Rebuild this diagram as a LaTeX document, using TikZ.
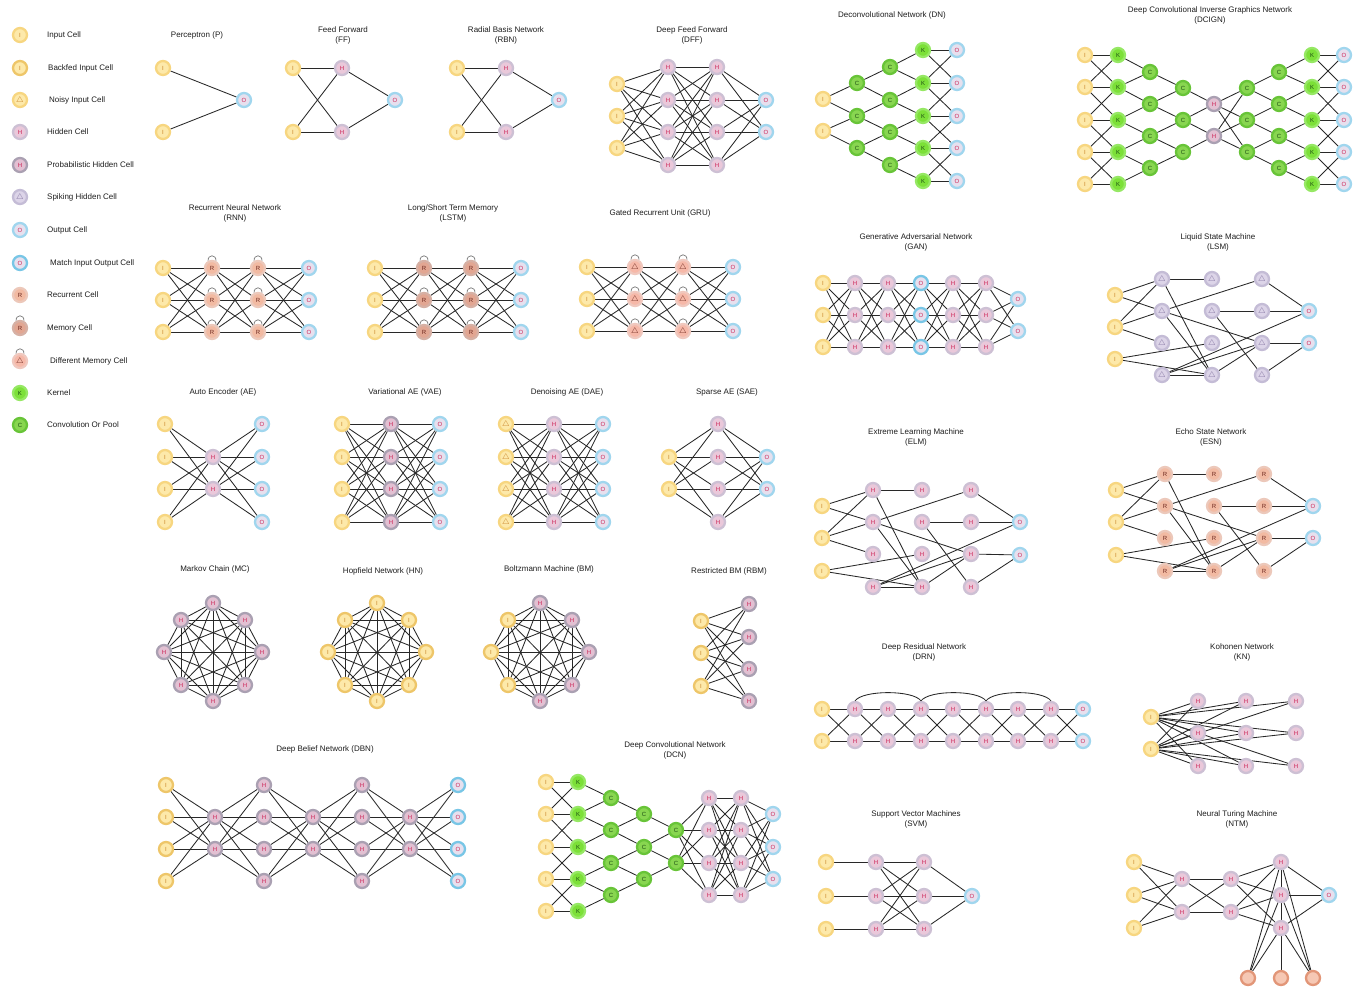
\documentclass[tikz,border=0pt]{standalone}
\usepackage{fontspec}
\setmainfont{Liberation Sans}
\definecolor{inpF}{RGB}{253,233,170}
\definecolor{inpD}{RGB}{247,214,128}
\definecolor{bfiD}{RGB}{238,198,105}
\definecolor{inpT}{RGB}{200,130,40}
\definecolor{hidF}{RGB}{234,200,218}
\definecolor{hidD}{RGB}{205,192,212}
\definecolor{prbF}{RGB}{226,192,210}
\definecolor{prbD}{RGB}{170,160,178}
\definecolor{hidT}{RGB}{205,35,85}
\definecolor{spkF}{RGB}{220,212,232}
\definecolor{spkD}{RGB}{196,188,214}
\definecolor{spkT}{RGB}{130,115,160}
\definecolor{outF}{RGB}{230,224,238}
\definecolor{outD}{RGB}{160,214,238}
\definecolor{matD}{RGB}{120,198,230}
\definecolor{recF}{RGB}{242,186,162}
\definecolor{recD}{RGB}{236,200,186}
\definecolor{memF}{RGB}{226,166,146}
\definecolor{memD}{RGB}{214,176,164}
\definecolor{ntmF}{RGB}{246,200,180}
\definecolor{ntmD}{RGB}{226,150,120}
\definecolor{dmeF}{RGB}{246,184,168}
\definecolor{dmeD}{RGB}{240,200,190}
\definecolor{recT}{RGB}{110,40,30}
\definecolor{kerF}{RGB}{124,224,56}
\definecolor{kerD}{RGB}{150,232,100}
\definecolor{cnvF}{RGB}{136,214,80}
\definecolor{cnvD}{RGB}{104,196,56}
\definecolor{kerT}{RGB}{30,80,20}
\definecolor{lineC}{RGB}{40,40,40}
\definecolor{arcC}{RGB}{120,120,120}
\definecolor{titleC}{RGB}{30,30,30}
\pgfdeclarelayer{bg}
\pgfsetlayers{bg,main}
\tikzset{
 cell/.style={circle,minimum size=14pt,inner sep=0pt,line width=2.3pt,font=\fontsize{6}{6}\selectfont},
 inp/.style={cell,fill=inpF,draw=inpD,text=inpT},
 bfi/.style={cell,fill=inpF,draw=bfiD,text=inpT},
 noi/.style={cell,fill=inpF,draw=inpD,text=inpT},
 hid/.style={cell,fill=hidF,draw=hidD,text=hidT},
 prb/.style={cell,fill=prbF,draw=prbD,text=hidT},
 spk/.style={cell,fill=spkF,draw=spkD,text=spkT},
 outc/.style={cell,fill=outF,draw=outD,text=hidT},
 mat/.style={cell,fill=outF,draw=matD,text=hidT},
 rec/.style={cell,fill=recF,draw=recD,text=recT},
 mem/.style={cell,fill=memF,draw=memD,text=recT},
 dme/.style={cell,fill=dmeF,draw=dmeD,text=recT},
 ker/.style={cell,fill=kerF,draw=kerD,text=kerT},
 cnv/.style={cell,fill=cnvF,draw=cnvD,text=kerT},
 ntm/.style={cell,minimum size=14pt,fill=ntmF,draw=ntmD},
 conn/.style={draw=lineC,line width=0.85pt},
 arcl/.style={draw=arcC,line width=0.7pt},
 ttl/.style={font=\fontsize{8}{10}\selectfont,align=center,text=titleC,inner sep=0pt},
 leg/.style={font=\fontsize{8}{9}\selectfont,anchor=west,text=titleC,inner sep=0pt},
}
\newcommand\NTri{{\fontsize{8.5}{8.5}\selectfont$\triangle$}}
\newcommand\NLayer[5]{\foreach \yy [count=\kk] in {#5}{\node[#2] (#1\kk) at (#4,\yy) {#3};}}
\newcommand\NFull[4]{\begin{pgfonlayer}{bg}\foreach \aa in {1,...,#2}{\foreach \bb in {1,...,#4}{\draw[conn] (#1\aa) -- (#3\bb);}}\end{pgfonlayer}}
\newcommand\NExp[3]{\begin{pgfonlayer}{bg}\foreach \aa in {1,...,#2}{\pgfmathtruncatemacro\bb{\aa+1}\draw[conn] (#1\aa) -- (#3\aa);\draw[conn] (#1\aa) -- (#3\bb);}\end{pgfonlayer}}
\newcommand\NCross[3]{\begin{pgfonlayer}{bg}\foreach \aa in {1,...,#2}{\draw[conn] (#1\aa) -- (#3\aa);}\pgfmathtruncatemacro\mm{#2-1}\foreach \aa in {1,...,\mm}{\pgfmathtruncatemacro\bb{\aa+1}\draw[conn] (#1\aa) -- (#3\bb);\draw[conn] (#1\bb) -- (#3\aa);}\end{pgfonlayer}}
\newcommand\NComplete[2]{\begin{pgfonlayer}{bg}\foreach \aa in {1,...,#2}{\foreach \bb in {1,...,#2}{\ifnum\aa<\bb\relax\draw[conn] (#1\aa) -- (#1\bb);\fi}}\end{pgfonlayer}}
\newcommand\NArcs[2]{\foreach \kk in {1,...,#2}{\draw[arcl] ([xshift=-4pt,yshift=-0.8pt]#1\kk.north) .. controls +(0,6.5pt) and +(0,6.5pt) .. ([xshift=4pt,yshift=-0.8pt]#1\kk.north);}}
\newcommand\NRand[1]{\begin{pgfonlayer}{bg}\foreach \u/\v in {I1/A1,I1/A2,I2/A1,I2/A2,I2/A3,I3/B3,I3/B4,A1/B1,A1/B4,A2/C1,A2/C3,A2/B4,A4/B4,A4/C3,A4/O1,B2/C2,B2/C4,B4/C3,C1/O1,C2/O1,C3/O2,C4/O2}{\draw[conn] (#1\u) -- (#1\v);}\end{pgfonlayer}}
\begin{document}
\begin{tikzpicture}[x=1pt,y=-1pt]
\begin{pgfonlayer}{bg}
\fill[white] (0,0) rectangle (1363,989);
\end{pgfonlayer}
\useasboundingbox (0,0) rectangle (1363,989);
% ---------------- legend
\node[inp] (lg1) at (20,35) {I};        \node[leg] (lt1) at (47,35) {Input Cell};
\node[bfi] (lg2) at (20,68) {I};        \node[leg] (lt2) at (48,68) {Backfed Input Cell};
\node[noi] (lg3) at (20,100) {\NTri};   \node[leg] (lt3) at (49,100) {Noisy Input Cell};
\node[hid] (lg4) at (20,132) {H};       \node[leg] (lt4) at (47,132) {Hidden Cell};
\node[prb] (lg5) at (20,165) {H};       \node[leg] (lt5) at (47,165) {Probabilistic Hidden Cell};
\node[spk] (lg6) at (20,197) {\NTri};   \node[leg] (lt6) at (47,197) {Spiking Hidden Cell};
\node[outc] (lg7) at (20,230) {O};      \node[leg] (lt7) at (47,230) {Output Cell};
\node[mat] (lg8) at (20,263) {O};       \node[leg] (lt8) at (50,263) {Match Input Output Cell};
\node[rec] (lg9) at (20,295) {R};       \node[leg] (lt9) at (47,295) {Recurrent Cell};
\node[mem] (lgm1) at (20,328) {R};      \node[leg] (lt10) at (47,328) {Memory Cell};
\node[dme] (lgm2) at (20,361) {\NTri};  \node[leg] (lt11) at (50,361) {Different Memory Cell};
\node[ker] (lg12) at (20,393) {K};      \node[leg] (lt12) at (47,393) {Kernel};
\node[cnv] (lg13) at (20,425) {C};      \node[leg] (lt13) at (47,425) {Convolution Or Pool};
\NArcs{lgm}{2}
% ---------------- Perceptron
\node[ttl] (tP) at (197,35) {Perceptron (P)};
\NLayer{pI}{inp}{I}{163}{68,132}
\NLayer{pO}{outc}{O}{244}{100}
\NFull{pI}{2}{pO}{1}
% ---------------- FF
\node[ttl] (tFF) at (343,35) {Feed Forward\\(FF)};
\NLayer{fI}{inp}{I}{293}{68,132}
\NLayer{fH}{hid}{H}{342}{68,132}
\NLayer{fO}{outc}{O}{395}{100}
\NFull{fI}{2}{fH}{2}\NFull{fH}{2}{fO}{1}
% ---------------- RBN
\node[ttl] (tRBN) at (506,35) {Radial Basis Network\\(RBN)};
\NLayer{rbI}{inp}{I}{457}{68,132}
\NLayer{rbH}{hid}{H}{506}{68,132}
\NLayer{rbO}{outc}{O}{559}{100}
\NFull{rbI}{2}{rbH}{2}\NFull{rbH}{2}{rbO}{1}
% ---------------- DFF
\node[ttl] (tDFF) at (692,35) {Deep Feed Forward\\(DFF)};
\NLayer{dfI}{inp}{I}{617}{84,116,148}
\NLayer{dfHa}{hid}{H}{668}{67,100,132,165}
\NLayer{dfHb}{hid}{H}{717}{67,100,132,165}
\NLayer{dfO}{outc}{O}{766}{100,132}
\NFull{dfI}{3}{dfHa}{4}\NFull{dfHa}{4}{dfHb}{4}\NFull{dfHb}{4}{dfO}{2}
% ---------------- DN
\node[ttl] (tDN) at (892,15) {Deconvolutional Network (DN)};
\NLayer{dnI}{inp}{I}{823}{99,131}
\NLayer{dnCa}{cnv}{C}{857}{83,116,148}
\NLayer{dnCb}{cnv}{C}{890}{67,100,132,165}
\NLayer{dnK}{ker}{K}{923}{50,83,116,148,181}
\NLayer{dnO}{outc}{O}{957}{50,83,116,148,181}
\NExp{dnI}{2}{dnCa}\NExp{dnCa}{3}{dnCb}\NExp{dnCb}{4}{dnK}\NCross{dnK}{5}{dnO}
% ---------------- DCIGN
\node[ttl] (tDCIGN) at (1210,15) {Deep Convolutional Inverse Graphics Network\\(DCIGN)};
\NLayer{dgI}{inp}{I}{1085}{55,87,120,152,184}
\NLayer{dgKa}{ker}{K}{1118}{55,87,120,152,184}
\NLayer{dgCa}{cnv}{C}{1150}{72,104,136,168}
\NLayer{dgCb}{cnv}{C}{1183}{88,120,152}
\NLayer{dgH}{prb}{H}{1214}{104,136}
\NLayer{dgCc}{cnv}{C}{1247}{88,120,152}
\NLayer{dgCd}{cnv}{C}{1279}{72,104,136,168}
\NLayer{dgKb}{ker}{K}{1312}{55,87,120,152,184}
\NLayer{dgO}{outc}{O}{1344}{55,87,120,152,184}
\NCross{dgI}{5}{dgKa}\NExp{dgCa}{4}{dgKa}\NExp{dgCb}{3}{dgCa}\NExp{dgH}{2}{dgCb}
\NFull{dgH}{2}{dgCc}{3}\NExp{dgCc}{3}{dgCd}\NExp{dgCd}{4}{dgKb}\NCross{dgKb}{5}{dgO}
% ---------------- RNN
\node[ttl] (tRNN) at (235,213) {Recurrent Neural Network\\(RNN)};
\NLayer{rnI}{inp}{I}{163}{268,300,332}
\NLayer{rnRa}{rec}{R}{212}{268,300,332}
\NLayer{rnRb}{rec}{R}{258}{268,300,332}
\NLayer{rnO}{outc}{O}{309}{268,300,332}
\NFull{rnI}{3}{rnRa}{3}\NFull{rnRa}{3}{rnRb}{3}\NFull{rnRb}{3}{rnO}{3}
\NArcs{rnRa}{3}\NArcs{rnRb}{3}
% ---------------- LSTM
\node[ttl] (tLSTM) at (453,213) {Long/Short Term Memory\\(LSTM)};
\NLayer{lsI}{inp}{I}{375}{268,300,332}
\NLayer{lsRa}{mem}{R}{424}{268,300,332}
\NLayer{lsRb}{mem}{R}{471}{268,300,332}
\NLayer{lsO}{outc}{O}{521}{268,300,332}
\NFull{lsI}{3}{lsRa}{3}\NFull{lsRa}{3}{lsRb}{3}\NFull{lsRb}{3}{lsO}{3}
\NArcs{lsRa}{3}\NArcs{lsRb}{3}
% ---------------- GRU
\node[ttl] (tGRU) at (660,213) {Gated Recurrent Unit (GRU)};
\NLayer{grI}{inp}{I}{587}{267,299,331}
\NLayer{grRa}{dme}{\NTri}{635}{267,299,331}
\NLayer{grRb}{dme}{\NTri}{683}{267,299,331}
\NLayer{grO}{outc}{O}{733}{267,299,331}
\NFull{grI}{3}{grRa}{3}\NFull{grRa}{3}{grRb}{3}\NFull{grRb}{3}{grO}{3}
\NArcs{grRa}{3}\NArcs{grRb}{3}
% ---------------- GAN
\node[ttl] (tGAN) at (916,242) {Generative Adversarial Network\\(GAN)};
\NLayer{gaI}{inp}{I}{823}{283,315,347}
\NLayer{gaHa}{hid}{H}{855}{283,315,347}
\NLayer{gaHb}{hid}{H}{888}{283,315,347}
\NLayer{gaM}{mat}{O}{921}{283,315,347}
\NLayer{gaHc}{hid}{H}{953}{283,315,347}
\NLayer{gaHd}{hid}{H}{986}{283,315,347}
\NLayer{gaO}{outc}{O}{1018}{299,331}
\NFull{gaI}{3}{gaHa}{3}\NFull{gaHa}{3}{gaHb}{3}\NFull{gaHb}{3}{gaM}{3}
\NFull{gaM}{3}{gaHc}{3}\NFull{gaHc}{3}{gaHd}{3}\NFull{gaHd}{3}{gaO}{2}
% ---------------- LSM
\node[ttl] (tLSM) at (1218,242) {Liquid State Machine\\(LSM)};
\NLayer{lmI}{inp}{I}{1115}{295,327,359}
\NLayer{lmA}{spk}{\NTri}{1162}{279,311,343,375}
\NLayer{lmB}{spk}{\NTri}{1212}{279,311,343,375}
\NLayer{lmC}{spk}{\NTri}{1262}{279,311,343,375}
\NLayer{lmO}{outc}{O}{1309}{311,343}
\NRand{lm}
% ---------------- AE family
\node[ttl] (tAE) at (223,392) {Auto Encoder (AE)};
\NLayer{aeI}{inp}{I}{165}{424,457,489,522}
\NLayer{aeH}{hid}{H}{213}{457,489}
\NLayer{aeO}{outc}{O}{262}{424,457,489,522}
\NFull{aeI}{4}{aeH}{2}\NFull{aeH}{2}{aeO}{4}
\node[ttl] (tVAE) at (405,392) {Variational AE (VAE)};
\NLayer{vaI}{inp}{I}{342}{424,457,489,522}
\NLayer{vaH}{prb}{H}{391}{424,457,489,522}
\NLayer{vaO}{outc}{O}{440}{424,457,489,522}
\NFull{vaI}{4}{vaH}{4}\NFull{vaH}{4}{vaO}{4}
\node[ttl] (tDAE) at (567,392) {Denoising AE (DAE)};
\NLayer{daI}{noi}{\NTri}{506}{424,457,489,522}
\NLayer{daH}{hid}{H}{554}{424,457,489,522}
\NLayer{daO}{outc}{O}{603}{424,457,489,522}
\NFull{daI}{4}{daH}{4}\NFull{daH}{4}{daO}{4}
\node[ttl] (tSAE) at (727,392) {Sparse AE (SAE)};
\NLayer{saI}{inp}{I}{669}{457,489}
\NLayer{saH}{hid}{H}{718}{424,457,489,522}
\NLayer{saO}{outc}{O}{767}{457,489}
\NFull{saI}{2}{saH}{4}\NFull{saH}{4}{saO}{2}
% ---------------- ELM
\node[ttl] (tELM) at (916,437) {Extreme Learning Machine\\(ELM)};
\NLayer{elI}{inp}{I}{822}{506,538,571}
\NLayer{elA}{hid}{H}{873}{490,522,554,587}
\NLayer{elB}{hid}{H}{922}{490,522,554,587}
\NLayer{elC}{hid}{H}{971}{490,522,554,587}
\NLayer{elO}{outc}{O}{1020}{522,555}
\NRand{el}
% ---------------- ESN
\node[ttl] (tESN) at (1211,437) {Echo State Network\\(ESN)};
\NLayer{esI}{inp}{I}{1116}{490,522,555}
\NLayer{esA}{rec}{R}{1165}{474,506,538,571}
\NLayer{esB}{rec}{R}{1214}{474,506,538,571}
\NLayer{esC}{rec}{R}{1264}{474,506,538,571}
\NLayer{esO}{outc}{O}{1313}{506,538}
\NRand{es}
% ---------------- MC, HN, BM, RBM
\node[ttl] (tMC) at (215,569) {Markov Chain (MC)};
\node[prb] (mc1) at (213,603) {H}; \node[prb] (mc2) at (245,620) {H};
\node[prb] (mc3) at (262,652) {H}; \node[prb] (mc4) at (245,685) {H};
\node[prb] (mc5) at (213,701) {H}; \node[prb] (mc6) at (181,685) {H};
\node[prb] (mc7) at (164,652) {H}; \node[prb] (mc8) at (181,620) {H};
\NComplete{mc}{8}
\node[ttl] (tHN) at (383,571) {Hopfield Network (HN)};
\node[bfi] (hn1) at (377,603) {I}; \node[bfi] (hn2) at (409,620) {I};
\node[bfi] (hn3) at (426,652) {I}; \node[bfi] (hn4) at (409,685) {I};
\node[bfi] (hn5) at (377,701) {I}; \node[bfi] (hn6) at (345,685) {I};
\node[bfi] (hn7) at (328,652) {I}; \node[bfi] (hn8) at (345,620) {I};
\NComplete{hn}{8}
\node[ttl] (tBM) at (549,569) {Boltzmann Machine (BM)};
\node[prb] (bm1) at (540,603) {H}; \node[prb] (bm2) at (572,620) {H};
\node[prb] (bm3) at (589,652) {H}; \node[prb] (bm4) at (572,685) {H};
\node[prb] (bm5) at (540,701) {H}; \node[bfi] (bm6) at (508,685) {I};
\node[bfi] (bm7) at (491,652) {I}; \node[bfi] (bm8) at (508,620) {I};
\NComplete{bm}{8}
\node[ttl] (tRBM) at (729,571) {Restricted BM (RBM)};
\NLayer{rbmI}{bfi}{I}{701}{621,653,686}
\NLayer{rbmH}{prb}{H}{749}{604,637,669,701}
\NFull{rbmI}{3}{rbmH}{4}
% ---------------- DRN
\node[ttl] (tDRN) at (924,652) {Deep Residual Network\\(DRN)};
\NLayer{drI}{inp}{I}{822}{709,741}
\NLayer{drHa}{hid}{H}{855}{709,741}
\NLayer{drHb}{hid}{H}{888}{709,741}
\NLayer{drHc}{hid}{H}{921}{709,741}
\NLayer{drHd}{hid}{H}{953}{709,741}
\NLayer{drHe}{hid}{H}{986}{709,741}
\NLayer{drHf}{hid}{H}{1018}{709,741}
\NLayer{drHg}{hid}{H}{1051}{709,741}
\NLayer{drO}{outc}{O}{1083}{709,741}
\NFull{drI}{2}{drHa}{2}\NFull{drHa}{2}{drHb}{2}\NFull{drHb}{2}{drHc}{2}\NFull{drHc}{2}{drHd}{2}
\NFull{drHd}{2}{drHe}{2}\NFull{drHe}{2}{drHf}{2}\NFull{drHf}{2}{drHg}{2}\NFull{drHg}{2}{drO}{2}
\draw[conn] (drHa1.north) .. controls +(8pt,11pt) and +(-8pt,11pt) .. (drHc1.north);
\draw[conn] (drHc1.north) .. controls +(8pt,11pt) and +(-8pt,11pt) .. (drHe1.north);
\draw[conn] (drHe1.north) .. controls +(8pt,11pt) and +(-8pt,11pt) .. (drHg1.north);
% ---------------- KN
\node[ttl] (tKN) at (1242,652) {Kohonen Network\\(KN)};
\NLayer{knI}{inp}{I}{1151}{717,749}
\NLayer{knA}{hid}{H}{1198}{701,733,766}
\NLayer{knB}{hid}{H}{1246}{701,733,766}
\NLayer{knC}{hid}{H}{1296}{701,733,766}
\NFull{knI}{2}{knA}{3}\NFull{knI}{2}{knB}{3}\NFull{knI}{2}{knC}{3}
% ---------------- DBN
\node[ttl] (tDBN) at (325,749) {Deep Belief Network (DBN)};
\NLayer{dbI}{bfi}{I}{166}{785,817,849,881}
\NLayer{dbA}{prb}{H}{215}{817,849}
\NLayer{dbB}{prb}{H}{264}{785,817,849,881}
\NLayer{dbC}{prb}{H}{313}{817,849}
\NLayer{dbD}{prb}{H}{362}{785,817,849,881}
\NLayer{dbE}{prb}{H}{410}{817,849}
\NLayer{dbO}{mat}{O}{458}{785,817,849,881}
\NFull{dbI}{4}{dbA}{2}\NFull{dbA}{2}{dbB}{4}\NFull{dbB}{4}{dbC}{2}
\NFull{dbC}{2}{dbD}{4}\NFull{dbD}{4}{dbE}{2}\NFull{dbE}{2}{dbO}{4}
% ---------------- DCN
\node[ttl] (tDCN) at (675,750) {Deep Convolutional Network\\(DCN)};
\NLayer{dcI}{inp}{I}{546}{782,814,847,879,911}
\NLayer{dcK}{ker}{K}{578}{782,814,847,879,911}
\NLayer{dcCa}{cnv}{C}{611}{798,830,863,895}
\NLayer{dcCb}{cnv}{C}{644}{814,847,879}
\NLayer{dcCc}{cnv}{C}{676}{830,863}
\NLayer{dcHa}{hid}{H}{709}{798,830,863,895}
\NLayer{dcHb}{hid}{H}{741}{798,830,863,895}
\NLayer{dcO}{outc}{O}{773}{814,847,879}
\NCross{dcI}{5}{dcK}\NExp{dcCa}{4}{dcK}\NExp{dcCb}{3}{dcCa}\NExp{dcCc}{2}{dcCb}
\NFull{dcCc}{2}{dcHa}{4}\NFull{dcHa}{4}{dcHb}{4}\NFull{dcHb}{4}{dcO}{3}
% ---------------- SVM
\node[ttl] (tSVM) at (916,819) {Support Vector Machines\\(SVM)};
\NLayer{svI}{inp}{I}{826}{862,896,929}
\NLayer{svA}{hid}{H}{876}{862,896,929}
\NLayer{svB}{hid}{H}{924}{862,896,929}
\NLayer{svO}{outc}{O}{972}{896}
\begin{pgfonlayer}{bg}\foreach \aa in {1,2,3}{\draw[conn] (svI\aa) -- (svA\aa);}\end{pgfonlayer}
\NFull{svA}{3}{svB}{3}\NFull{svB}{3}{svO}{1}
% ---------------- NTM
\node[ttl] (tNTM) at (1237,819) {Neural Turing Machine\\(NTM)};
\NLayer{ntI}{inp}{I}{1134}{862,895,928}
\NLayer{ntA}{hid}{H}{1182}{879,912}
\NLayer{ntB}{hid}{H}{1231}{879,912}
\NLayer{ntC}{hid}{H}{1281}{862,895,928}
\NLayer{ntO}{outc}{O}{1329}{895}
\node[ntm] (ntM1) at (1248,978) {};
\node[ntm] (ntM2) at (1281,978) {};
\node[ntm] (ntM3) at (1313,978) {};
\NFull{ntI}{3}{ntA}{2}\NFull{ntA}{2}{ntB}{2}\NFull{ntB}{2}{ntC}{3}
\NFull{ntC}{3}{ntO}{1}\NFull{ntC}{3}{ntM}{3}
\end{tikzpicture}
\end{document}
